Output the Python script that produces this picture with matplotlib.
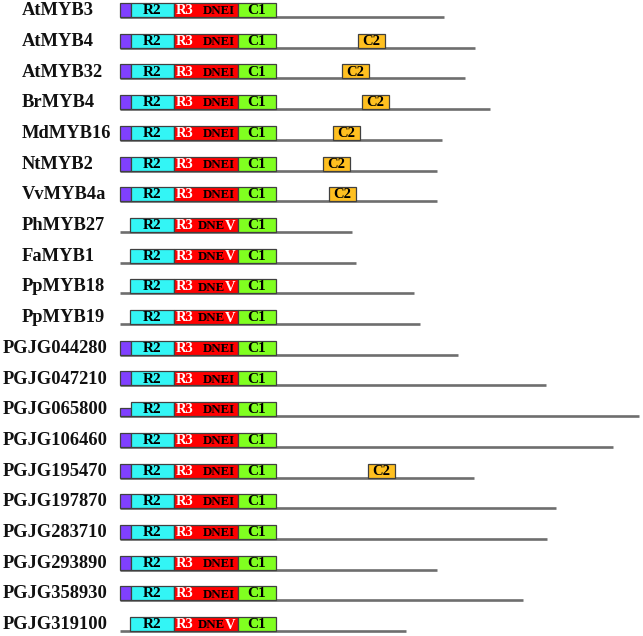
import matplotlib
matplotlib.use("Agg")
import matplotlib.pyplot as plt

# ---------------- data ----------------
names = ["AtMYB3", "AtMYB4", "AtMYB32", "BrMYB4", "MdMYB16", "NtMYB2", "VvMYB4a",
         "PhMYB27", "FaMYB1", "PpMYB18", "PpMYB19",
         "PGJG044280", "PGJG047210", "PGJG065800", "PGJG106460", "PGJG195470",
         "PGJG197870", "PGJG283710", "PGJG293890", "PGJG358930", "PGJG319100"]
lengths = [324, 355, 345, 370, 322, 317, 317,
           232, 236, 294, 300,
           338, 426, 519, 493, 354,
           436, 427, 317, 403, 286]
motif = ["DNEI"] * 7 + ["DNEV"] * 4 + ["DNEI"] * 9 + ["DNEV"]
# purple N-terminal box: 1 = full, 0.55 = short, 0 = none
purple = [1, 1, 1, 1, 1, 1, 1, 0, 0, 0, 0, 1, 1, 0.55, 1, 1, 1, 1, 1, 1, 0]
purple_span = (0, 11)
r2_span_p = (11, 54)      # R2 when purple box present
r2_span_n = (10, 54)      # R2 when absent
r3_span = (54, 118)
c1_span = (118, 156)
c2_start = [None, 238, 222, 242, 213, 203, 209,
            None, None, None, None,
            None, None, None, None, 248,
            None, None, None, None, None]
c2_width = 27

# ---------------- styles ----------------
COL_PURPLE = "#8040FF"
COL_R2 = "#33F5F5"
COL_R3 = "#FF0000"
COL_C1 = "#80FF20"
COL_C2 = "#FFC020"
EDGE = "#404040"
LINE = "#6e6e6e"

fig = plt.figure(figsize=(6.43, 6.36), dpi=100)
ax = fig.add_axes([0, 0, 1, 1])
ax.set_xlim(-120, 523)
ax.set_ylim((636 - 17) / 30.7, -17 / 30.7)
ax.axis("off")

H = 14 / 30.7  # box height in row units
serif = ["Liberation Serif", "DejaVu Serif"]

def box(y, x0, x1, color, h=H):
    ax.barh(y - h / 2, x1 - x0, left=x0, height=h, color=color,
            edgecolor=EDGE, linewidth=0.9, zorder=3)

for i, name in enumerate(names):
    y = i
    ax.hlines(y, 0, lengths[i], color=LINE, linewidth=1.9, zorder=1)
    lx = -117 if name.startswith("PGJG") else -98
    ax.text(lx, y - H / 2 + 0.02, name, ha="left", va="center", fontsize=13.3,
            fontweight="bold", family=serif, color="#111111")
    if purple[i] > 0:
        box(y, purple_span[0], purple_span[1], COL_PURPLE, H * purple[i])
        r2 = r2_span_p
    else:
        r2 = r2_span_n
    box(y, r2[0], r2[1], COL_R2)
    box(y, r3_span[0], r3_span[1], COL_R3)
    box(y, c1_span[0], c1_span[1], COL_C1)
    ty = y - H / 2 + 0.02
    fs = 11
    ax.text((r2[0] + r2[1]) / 2, ty, "R2", ha="center", va="center",
            fontsize=fs, fontweight="bold", family=serif, color="black", zorder=4)
    ax.text(r3_span[0] + 11, ty, "R3", ha="center", va="center",
            fontsize=fs - 0.5, fontweight="bold", family=serif, color="white", zorder=4)
    if motif[i] == "DNEI":
        ax.text(99, ty + 0.02, "DNEI", ha="center", va="center", fontsize=9.3,
                fontweight="bold", family=serif, color="black", zorder=4)
    else:
        ax.text(105, ty + 0.02, "DNE", ha="right", va="center", fontsize=9.3,
                fontweight="bold", family=serif, color="black", zorder=4)
        ax.text(105, ty + 0.02, "V", ha="left", va="center", fontsize=10.5,
                fontweight="bold", family=serif, color="white", zorder=4)
    ax.text((c1_span[0] + c1_span[1]) / 2, ty, "C1", ha="center", va="center",
            fontsize=fs, fontweight="bold", family=serif, color="black", zorder=4)
    if c2_start[i] is not None:
        box(y, c2_start[i], c2_start[i] + c2_width, COL_C2)
        ax.text(c2_start[i] + c2_width / 2, ty, "C2", ha="center", va="center",
                fontsize=fs - 0.5, fontweight="bold", family=serif, color="black", zorder=4)

fig.savefig("out.png", dpi=100)
